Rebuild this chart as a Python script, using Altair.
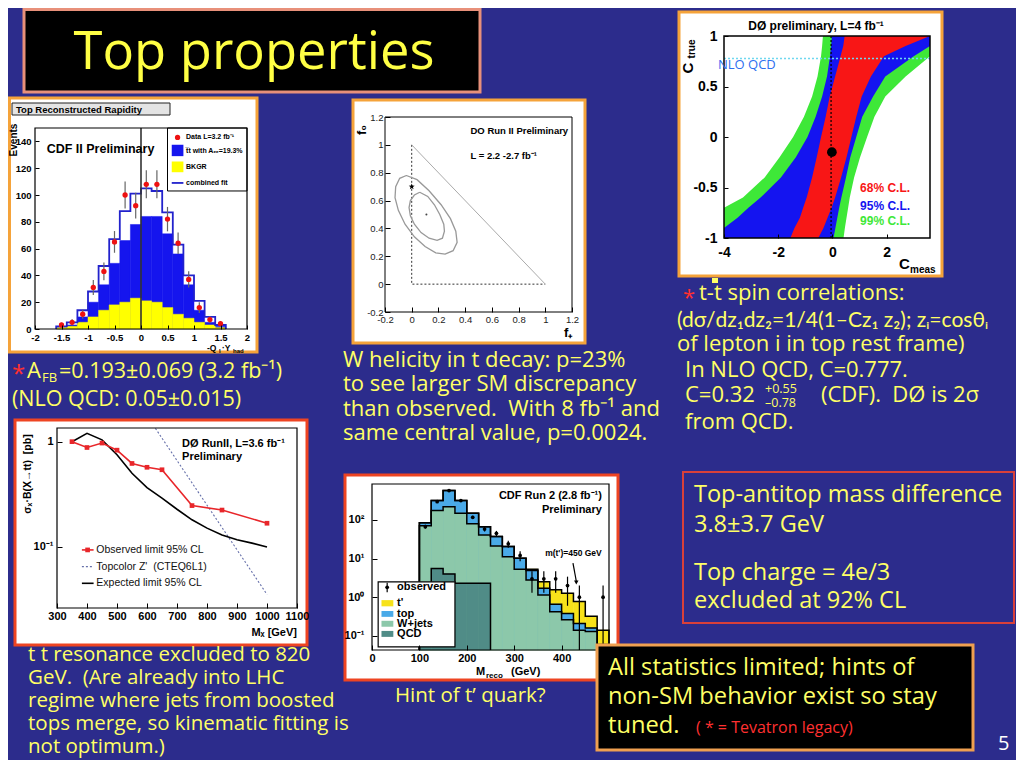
import altair as alt
import pandas as pd

W, H = 1008, 752
BG = "#2c2c8c"
YEL = "#ffff66"
RED = "#ff3030"
SF = "Open Sans"
PF = "Liberation Sans"
ORANGE = "#f5a33a"
REDORANGE = "#ee4422"
NB = "\u00a0"

# ---------------------------------------------------------------- data
# CDF top reconstructed rapidity
rap_lo = [-1.6, -1.4, -1.2, -1.0, -0.8, -0.6, -0.4, -0.2, 0.0, 0.2, 0.4, 0.6, 0.8, 1.0, 1.2, 1.4]
rap_hi = [-1.4, -1.2, -1.0, -0.8, -0.6, -0.4, -0.2, 0.0, 0.2, 0.4, 0.6, 0.8, 1.0, 1.2, 1.4, 1.6]
rap_mid = [-1.5, -1.3, -1.1, -0.9, -0.7, -0.5, -0.3, -0.1, 0.1, 0.3, 0.5, 0.7, 0.9, 1.1, 1.3, 1.5]
rap_fit = [2, 5, 14, 28, 47, 67, 88, 101, 105, 103, 87, 63, 40, 21, 9, 3]
rap_sig = [1, 3, 9, 20, 33, 49, 66, 78, 84, 84, 71, 56, 33, 14, 5, 2]
rap_bkg = [1, 2, 5, 9, 14, 18, 20, 23, 21, 20, 16, 11, 8, 5, 3, 1]
rap_data = [3, 5, 11, 31, 43, 65, 100, 92, 108, 108, 82, 64, 37, 16, 7, 4]
rap_err = [1.7, 2.2, 3.3, 5.6, 6.6, 8.1, 10, 9.6, 10.4, 10.4, 9.1, 8, 6.1, 4, 2.6, 2]

# D0 W helicity
wh_in_x = [0.06, 0.02, -0.01, -0.02, -0.01, 0.02, 0.07, 0.13, 0.19, 0.23, 0.245, 0.24, 0.21, 0.17, 0.12, 0.06]
wh_in_y = [0.66, 0.64, 0.60, 0.55, 0.49, 0.43, 0.37, 0.33, 0.315, 0.33, 0.38, 0.43, 0.50, 0.57, 0.63, 0.66]
wh_out_x = [-0.04, -0.09, -0.12, -0.125, -0.10, -0.05, 0.02, 0.10, 0.18, 0.25, 0.31, 0.34, 0.33, 0.29, 0.22, 0.13, 0.04, -0.04]
wh_out_y = [0.78, 0.76, 0.70, 0.62, 0.53, 0.43, 0.34, 0.27, 0.225, 0.215, 0.24, 0.30, 0.38, 0.47, 0.57, 0.67, 0.75, 0.78]
wh_star = [0.0, 0.70]
wh_best = [0.11, 0.50]

# D0 spin correlation bands (C_true -> C_meas interval)
sp_c = [1.0, 0.9, 0.8, 0.6, 0.4, 0.2, 0.0, -0.2, -0.4, -0.6, -0.7, -0.8, -0.9, -1.0]
sp_g_lo = [-0.35, -0.38, -0.42, -0.55, -0.75, -1.05, -1.45, -1.95, -2.5, -3.3, -4.0, -4.0, -4.0, -4.0]
sp_g_hi = [3.6, 3.6, 3.6, 2.7, 1.95, 1.55, 1.28, 1.02, 0.8, 0.64, 0.58, 0.52, 0.46, 0.41]
sp_b_lo = [-0.02, -0.05, -0.09, -0.2, -0.38, -0.62, -0.92, -1.35, -1.9, -2.65, -3.1, -3.5, -4.0, -4.0]
sp_b_hi = [3.6, 3.6, 3.0, 1.95, 1.5, 1.1, 0.88, 0.66, 0.5, 0.33, 0.25, 0.18, 0.11, 0.04]
sp_r_lo = [0.45, 0.4, 0.3, 0.1, -0.1, -0.25, -0.42, -0.58, -0.75, -0.95, -1.08, -1.2, -1.4, -1.55]
sp_r_hi = [3.6, 2.7, 1.9, 1.42, 1.08, 0.88, 0.70, 0.52, 0.32, 0.10, -0.03, -0.18, -0.33, -0.52]
sp_meas = [-0.02, -0.15]
sp_nlo = 0.777
sp_dot_x = -0.05

# D0 ttbar resonance limits
res_obs_m = [350, 400, 450, 500, 550, 600, 650, 750, 850, 1000]
res_obs = [1.0, 0.88, 0.97, 0.83, 0.62, 0.57, 0.54, 0.246, 0.223, 0.167]
res_exp_m = [350, 400, 450, 500, 550, 600, 650, 700, 750, 800, 850, 900, 950, 1000]
res_exp = [1.0, 1.2, 1.04, 0.75, 0.50, 0.365, 0.29, 0.227, 0.18, 0.15, 0.129, 0.116, 0.108, 0.099]
res_z_m = [628, 1000]
res_z = [1.34, 0.035]

# CDF t' search
tp_lo = [100, 125, 150, 175, 200, 225, 250, 275, 300, 325, 350, 375, 400, 425, 450, 475]
tp_hi = [125, 150, 175, 200, 225, 250, 275, 300, 325, 350, 375, 400, 425, 450, 475, 500]
tp_total = [85, 316, 575, 316, 149, 67, 37, 20.4, 10.2, 5.3, 2.5, 1.55, 1.26, 0.77, 0.32, 0.14]
tp_top = [85, 316, 575, 316, 149, 67, 37, 20.4, 10.2, 4.9, 1.7, 0.66, 0.38, 0.21, 0.16, 0.06]
tp_wj = [71, 174, 220, 149, 79, 41, 21, 11.2, 5.3, 2.8, 1.14, 0.42, 0.26, 0.14, 0.13, 0.05]
tp_qcd_lo = [100, 125, 150, 175, 200, 225]
tp_qcd_hi = [125, 150, 175, 200, 225, 250]
tp_qcd = [1.5, 5.5, 4.0, 2.3, 2.3, 2.3]
tp_obs_m = [112.5, 137.5, 162.5, 187.5, 212.5, 237.5, 262.5, 287.5, 312.5, 337.5, 362.5, 387.5, 412.5, 437.5, 487.5]
tp_obs = [67, 297, 575, 316, 117, 58, 45, 24, 12, 3, 3, 3, 2, 1, 1]
tp_obs_lo = [59, 280, 551, 298, 106, 50, 38, 19, 8.5, 1.3, 1.3, 1.3, 0.6, 0.043, 0.043]
tp_obs_hi = [75, 314, 599, 334, 128, 66, 52, 29, 15.5, 4.7, 4.7, 4.7, 3.4, 2.0, 2.0]

# slide texts
title_text = "Top properties"
afb_lines = ["=0.193\u00b10.069 (3.2 fb\u207b\u00b9)", "(NLO QCD: 0.05\u00b10.015)"]
whel_lines = ["W helicity in t decay: p=23%", "to see larger SM discrepancy",
              "than observed." + NB + " With 8 fb\u207b\u00b9 and", "same central value, p=0.0024."]
spin_lines = ["t-t spin correlations:", "(d\u03c3/dz\u2081dz\u2082=1/4(1\u2013Cz\u2081 z\u2082); z\u1d62=cos\u03b8\u1d62",
              "of lepton i in top rest frame)", "In NLO QCD, C=0.777.", "C=0.32", "+0.55", "\u20130.78",
              "(CDF)." + NB + " D\u00d8 is 2\u03c3", "from QCD."]
res_lines = ["t t resonance excluded to 820", "GeV." + NB + " (Are already into LHC", "regime where jets from boosted",
             "tops merge, so kinematic fitting is", "not optimum.)"]
box_lines = ["Top-antitop mass difference", "3.8\u00b13.7 GeV", "Top charge = 4e/3", "excluded at 92% CL"]
black_lines = ["All statistics limited; hints of", "non-SM behavior exist so stay", "tuned.", "( * = Tevatron legacy)"]

# ---------------------------------------------------------------- helpers
one = pd.DataFrame({"k": [0]})
FMT = "replace(format(datum.value, '~g'), '\u2212', '-')"


def px_rect(x0, y0, x1, y1, fill, stroke=None, sw=0, fo=1.0):
    kw = {"fill": fill, "fillOpacity": fo, "strokeWidth": sw}
    if stroke:
        kw["stroke"] = stroke
    return alt.Chart(one).mark_rect(**kw).encode(
        x=alt.value(x0), x2=alt.value(x1), y=alt.value(y0), y2=alt.value(y1))


def px_text(s, x, y, size, color=YEL, font=SF, align="left", weight="normal", angle=None, baseline="alphabetic"):
    kw = dict(text=s, align=align, baseline=baseline, fontSize=size, font=font, color=color, fontWeight=weight)
    if angle is not None:
        kw["angle"] = angle
    return alt.Chart(one).mark_text(**kw).encode(x=alt.value(x), y=alt.value(y))


def px_block(lines, x, y, size, lh, color=YEL, font=SF):
    return alt.Chart(one).mark_text(text="\n".join(lines), lineBreak="\n", lineHeight=lh, align="left",
                                    baseline="alphabetic", fontSize=size, font=font, color=color).encode(
        x=alt.value(x), y=alt.value(y))


class Plot:
    def __init__(self, xdom, xrng, ydom, yrng, xvals, yvals, ylog=False, ts=4, xpad=2, ypad=2,
                 lsize=10, lweight="bold", xexpr=FMT, yexpr=FMT, lcolor="black"):
        self.xdom, self.ydom = xdom, ydom
        self.xs = alt.Scale(domain=xdom, range=xrng, nice=False, zero=False)
        if ylog:
            self.ys = alt.Scale(type="log", domain=ydom, range=yrng, nice=False)
        else:
            self.ys = alt.Scale(domain=ydom, range=yrng, nice=False, zero=False)
        common = dict(grid=False, domain=False, tickColor="black", tickWidth=1, labelFont=PF,
                      labelFontSize=lsize, labelFontWeight=lweight, labelColor=lcolor, labelFlush=False,
                      labelOverlap=False, title=None, zindex=1)
        self.xa = alt.Axis(orient="bottom", offset=yrng[0] - ts - H, tickSize=ts, labelPadding=xpad,
                           values=xvals, labelExpr=xexpr, **common)
        self.ya = alt.Axis(orient="left", offset=-(xrng[0] + ts), tickSize=ts, labelPadding=ypad,
                           values=yvals, labelExpr=yexpr, **common)

    def X(self, f):
        return alt.X(f, type="quantitative", scale=self.xs, axis=self.xa)

    def Y(self, f):
        return alt.Y(f, type="quantitative", scale=self.ys, axis=self.ya)

    def frame(self, sw=1.2):
        df = pd.DataFrame({"x0": [self.xdom[0]], "x1": [self.xdom[1]], "y0": [self.ydom[0]], "y1": [self.ydom[1]]})
        return alt.Chart(df).mark_rect(fill="white", fillOpacity=0, stroke="black", strokeWidth=sw).encode(
            x=self.X("x0"), x2="x1", y=self.Y("y0"), y2="y1")

    def box(self, x0, x1, y0, y1, fill, stroke=None, sw=0):
        df = pd.DataFrame({"x0": [x0], "x1": [x1], "y0": [y0], "y1": [y1]})
        kw = {"fill": fill, "strokeWidth": sw}
        if stroke:
            kw["stroke"] = stroke
        return alt.Chart(df).mark_rect(**kw).encode(x=self.X("x0"), x2="x1", y=self.Y("y0"), y2="y1")

    def text(self, s, x, y, size, color="black", weight="bold", align="left", font=PF):
        df = pd.DataFrame({"x": [x], "y": [y], "t": [s]})
        return alt.Chart(df).mark_text(align=align, baseline="middle", fontSize=size, font=font,
                                       color=color, fontWeight=weight).encode(
            x=self.X("x"), y=self.Y("y"), text="t:N")

    def seg(self, x0, x1, y0, y1, color, sw=1.2, dash=None):
        df = pd.DataFrame({"x": [x0, x1], "y": [y0, y1], "i": [0, 1]})
        kw = {"color": color, "strokeWidth": sw}
        if dash:
            kw["strokeDash"] = dash
        return alt.Chart(df).mark_line(**kw).encode(x=self.X("x"), y=self.Y("y"), order="i:Q")


def steps(lo, hi, vals, base):
    xs = [lo[0]] + list(lo) + [hi[-1]]
    ys = [base] + list(vals) + [base]
    return pd.DataFrame({"x": xs, "y": ys, "i": list(range(len(xs)))})


layers = []

# ---------------------------------------------------------------- title
layers += [px_rect(16, 1.5, 472, 84, "black", "#e8907a", 3),
           px_text(title_text, 246, 61, 52.5, "#ffff44", SF, align="center")]

# ---------------------------------------------------------------- CDF rapidity
cdf = Plot([-2, 2], [27, 239], [0, 150], [321, 120], [-2, -1.5, -1, -0.5, 0, 0.5, 1, 1.5, 2],
           [0, 20, 40, 60, 80, 100, 120, 140], ts=4, xpad=3, ypad=4, lsize=9.5)
rap_df = pd.DataFrame({"lo": rap_lo, "hi": rap_hi, "sig": rap_sig, "bkg": rap_bkg, "zero": 0})
rap_pts = pd.DataFrame({"x": rap_mid, "y": rap_data,
                        "lo": [d - e for d, e in zip(rap_data, rap_err)],
                        "hi": [d + e for d, e in zip(rap_data, rap_err)]})
BLUE = "#1515ee"
cdf_layer = alt.layer(
    px_rect(1.5, 90, 249, 344, "white", ORANGE, 3),
    px_rect(4, 95, 162, 107, "#e4e4e4", "#222222", 1),
    px_text("Top Reconstructed Rapidity", 8, 105, 9.5, "black", PF, weight="bold"),
    alt.Chart(rap_df).mark_rect(color=BLUE, stroke=BLUE, strokeWidth=0.5).encode(
        x=cdf.X("lo"), x2="hi", y=cdf.Y("sig"), y2="zero"),
    alt.Chart(rap_df).mark_rect(color="#ffff00", stroke="#ffff00", strokeWidth=0.5).encode(
        x=cdf.X("lo"), x2="hi", y=cdf.Y("bkg"), y2="zero"),
    alt.Chart(steps(rap_lo, rap_hi, rap_fit, 0)).mark_line(interpolate="step-after", color="#2222cc",
                                                           strokeWidth=1.8).encode(
        x=cdf.X("x"), y=cdf.Y("y"), order="i:Q"),
    cdf.seg(0, 0, 0, 150, "#333333", 1.6),
    alt.Chart(rap_pts).mark_rule(color="#666666", strokeWidth=1.2).encode(
        x=cdf.X("x"), y=cdf.Y("lo"), y2="hi"),
    alt.Chart(rap_pts).mark_point(filled=True, color="#ee1111", size=28, opacity=1).encode(
        x=cdf.X("x"), y=cdf.Y("y")),
    cdf.text("CDF II Preliminary", -1.78, 134, 12.5),
    cdf.box(0.5, 2.0, 103, 150, "white", "black", 1),
    alt.Chart(pd.DataFrame({"x": [0.69], "y": [143]})).mark_point(filled=True, color="#ee1111", size=28,
                                                                 opacity=1).encode(
        x=cdf.X("x"), y=cdf.Y("y")),
    cdf.box(0.58, 0.8, 129, 137.5, BLUE),
    cdf.box(0.58, 0.8, 117, 125, "#ffff00"),
    cdf.seg(0.58, 0.8, 109, 109, "#2222cc", 1.8),
    cdf.text("Data L=3.2 fb\u207b\u00b9", 0.85, 143, 7),
    cdf.text("t\u0305t with A\u2091\u2091=19.3%", 0.85, 133, 7),
    cdf.text("BKGR", 0.85, 121, 7),
    cdf.text("combined fit", 0.85, 109, 7),
    cdf.frame(),
)
layers += [cdf_layer,
           px_text("Events", 6, 132, 10, "black", PF, align="center", weight="bold", angle=270, baseline="middle"),
           px_text("-Q", 199, 343, 8.5, "black", PF, weight="bold"),
           px_text("l", 211, 345, 6, "black", PF, weight="bold"),
           px_text("\u00b7Y", 214, 343, 8.5, "black", PF, weight="bold"),
           px_text("had", 225, 345, 6, "black", PF, weight="bold")]

# ---------------------------------------------------------------- W helicity
wv = [-0.2, 0, 0.2, 0.4, 0.6, 0.8, 1, 1.2]
wh = Plot([-0.2, 1.2], [377, 564], [-0.2, 1.2], [304, 109], wv, wv, ts=5, xpad=2, ypad=2, lsize=9.5,
          lweight="normal", lcolor="#222222")
ell = pd.concat([
    pd.DataFrame({"x": wh_in_x, "y": wh_in_y, "i": list(range(len(wh_in_x))), "e": "in"}),
    pd.DataFrame({"x": wh_out_x, "y": wh_out_y, "i": list(range(len(wh_out_x))), "e": "out"})])
tri = pd.DataFrame({"x": [0, 0, 1], "y": [1, 0, 0], "i": [0, 1, 2]})
STAR = ("M0,-1L0.235,-0.324L0.951,-0.309L0.38,0.124L0.588,0.809L0,0.4L-0.588,0.809L-0.38,0.124"
        "L-0.951,-0.309L-0.235,-0.324Z")
wh_layer = alt.layer(
    px_rect(345, 92, 577, 335, "white", ORANGE, 3),
    alt.Chart(tri).mark_line(color="#333333", strokeWidth=1, strokeDash=[2, 2]).encode(
        x=wh.X("x"), y=wh.Y("y"), order="i:Q"),
    wh.seg(0, 1, 1, 0, "#aaaaaa", 1),
    alt.Chart(ell).mark_line(color="#999999", strokeWidth=1.3).encode(
        x=wh.X("x"), y=wh.Y("y"), order="i:Q", detail="e:N"),
    alt.Chart(pd.DataFrame({"x": [wh_star[0]], "y": [wh_star[1]]})).mark_point(
        shape=STAR, filled=True, color="black", size=40, opacity=1).encode(x=wh.X("x"), y=wh.Y("y")),
    alt.Chart(pd.DataFrame({"x": [wh_best[0]], "y": [wh_best[1]]})).mark_point(
        filled=True, color="#444444", size=4, opacity=1).encode(x=wh.X("x"), y=wh.Y("y")),
    wh.text("DO Run II Preliminary", 0.44, 1.10, 9.5),
    wh.text("L = 2.2 -2.7 fb\u207b\u00b9", 0.44, 0.92, 9.5),
    wh.frame(1),
)
layers += [wh_layer,
           px_text("f\u2080", 354, 122, 13, "black", PF, align="center", weight="bold", angle=270, baseline="middle"),
           px_text("f\u208a", 556, 329, 13, "black", PF, weight="bold")]

# ---------------------------------------------------------------- spin correlation
sp = Plot([-4, 3.6], [716, 922], [-1, 1], [230, 28], [-4, -2, 0, 2], [-1, -0.5, 0, 0.5, 1],
          ts=4, xpad=7, ypad=7, lsize=14)
band = pd.DataFrame({"c": sp_c, "glo": sp_g_lo, "ghi": sp_g_hi, "blo": sp_b_lo, "bhi": sp_b_hi,
                     "rlo": sp_r_lo, "rhi": sp_r_hi})
sp_layer = alt.layer(
    px_rect(671, 4, 934, 268, "white", ORANGE, 3),
    alt.Chart(band).mark_area(orient="horizontal", color="#3ee838", opacity=1).encode(
        y=sp.Y("c"), x=sp.X("glo"), x2="ghi"),
    alt.Chart(band).mark_area(orient="horizontal", color="#1414f0", opacity=1).encode(
        y=sp.Y("c"), x=sp.X("blo"), x2="bhi"),
    alt.Chart(band).mark_area(orient="horizontal", color="#f81616", opacity=1).encode(
        y=sp.Y("c"), x=sp.X("rlo"), x2="rhi"),
    sp.seg(sp_dot_x, sp_dot_x, -1, 1, "black", 1.2, [2, 2]),
    sp.seg(-4, 3.6, sp_nlo, sp_nlo, "#6fd8f0", 1.6, [2, 2]),
    alt.Chart(pd.DataFrame({"x": [sp_meas[0]], "y": [sp_meas[1]]})).mark_point(
        filled=True, color="black", size=95, opacity=1).encode(x=sp.X("x"), y=sp.Y("y")),
    sp.text("68% C.L.", 1.02, -0.50, 12, "#f81616"),
    sp.text("95% C.L.", 1.02, -0.68, 12, "#1414f0"),
    sp.text("99% C.L.", 1.02, -0.83, 12, "#3ee838"),
    sp.frame(1.5),
)
layers += [sp_layer,
           px_text("D\u00d8 preliminary, L=4 fb\u207b\u00b9", 808, 22, 12, "black", PF, align="center", weight="bold"),
           px_text("C", 680, 60, 15, "black", PF, align="center", weight="bold", angle=270, baseline="middle"),
           px_text("true", 684, 41, 10, "black", PF, align="center", weight="bold", angle=270, baseline="middle"),
           px_text("C", 891, 261, 15, "black", PF, weight="bold"),
           px_text("meas", 902, 265, 10, "black", PF, weight="bold"),
           px_text("NLO QCD", 710, 61, 13, "#2e6ff0", SF)]

# ---------------------------------------------------------------- D0 resonance
res = Plot([300, 1100], [49, 289], [0.026, 1.35], [600, 420], [300, 400, 500, 600, 700, 800, 900, 1000, 1100],
           [0.1, 1], ylog=True, ts=5, xpad=2, ypad=4, lsize=11,
           yexpr="datum.value >= 1 ? '1' : '10\u207b\u00b9'")
obs_df = pd.DataFrame({"x": res_obs_m, "y": res_obs, "i": list(range(len(res_obs)))})
exp_df = pd.DataFrame({"x": res_exp_m, "y": res_exp, "i": list(range(len(res_exp)))})
z_df = pd.DataFrame({"x": res_z_m, "y": res_z, "i": [0, 1]})
RRED = "#e8262a"
res_layer = alt.layer(
    px_rect(7, 412, 299, 637, "white", REDORANGE, 3),
    alt.Chart(z_df).mark_line(color="#6670aa", strokeWidth=1.1, strokeDash=[2, 2]).encode(
        x=res.X("x"), y=res.Y("y"), order="i:Q"),
    alt.Chart(exp_df).mark_line(color="black", strokeWidth=1.6).encode(
        x=res.X("x"), y=res.Y("y"), order="i:Q"),
    alt.Chart(obs_df).mark_line(color=RRED, strokeWidth=1.6).encode(
        x=res.X("x"), y=res.Y("y"), order="i:Q"),
    alt.Chart(obs_df).mark_point(shape="square", filled=True, color=RRED, size=22, opacity=1).encode(
        x=res.X("x"), y=res.Y("y")),
    res.seg(383, 422, 0.093, 0.093, RRED, 1.6),
    alt.Chart(pd.DataFrame({"x": [402], "y": [0.093]})).mark_point(shape="square", filled=True, color=RRED,
                                                                  size=22, opacity=1).encode(
        x=res.X("x"), y=res.Y("y")),
    res.seg(383, 422, 0.0645, 0.0645, "#6670aa", 1.1, [2, 2]),
    res.seg(383, 422, 0.0447, 0.0447, "black", 1.6),
    res.text("Observed limit 95% CL", 431, 0.093, 10.5, "#111111", "normal"),
    res.text("Topcolor Z'" + NB + " (CTEQ6L1)", 431, 0.0645, 10.5, "#111111", "normal"),
    res.text("Expected limit 95% CL", 431, 0.0447, 10.5, "#111111", "normal"),
    res.text("D\u00d8 RunII, L=3.6 fb\u207b\u00b9", 717, 0.96, 11),
    res.text("Preliminary", 717, 0.72, 11),
    res.frame(1.2),
)
layers += [res_layer,
           px_text("\u03c3\u2093\u00b7B(X\u2192tt)" + NB + " [pb]", 20, 466, 10.5, "black", PF, align="center",
                   weight="bold", angle=270, baseline="middle"),
           px_text("M\u2093 [GeV]", 289, 628, 11, "black", PF, align="right", weight="bold")]

# ---------------------------------------------------------------- CDF t'
tp = Plot([0, 500], [364, 601], [0.043, 850], [642, 476], [0, 100, 200, 300, 400], [0.1, 1, 10, 100],
          ylog=True, ts=5, xpad=2, ypad=8, lsize=11,
          yexpr=("datum.value >= 100 ? '10\u00b2' : datum.value >= 10 ? '10\u00b9' : "
                 "datum.value >= 1 ? '10\u2070' : '10\u207b\u00b9'"))
BASE = 0.043
tp_df = pd.DataFrame({"lo": tp_lo, "hi": tp_hi, "tot": tp_total, "top": tp_top, "wj": tp_wj, "b": BASE})
qcd_df = pd.DataFrame({"lo": tp_qcd_lo, "hi": tp_qcd_hi, "q": tp_qcd, "b": BASE})
tobs = pd.DataFrame({"x": tp_obs_m, "y": tp_obs, "lo": tp_obs_lo, "hi": tp_obs_hi})
C_TP, C_TOP, C_WJ, C_QCD = "#f7e21a", "#4aaae8", "#8cc8aa", "#508c87"


def tp_bars(col, color, df=tp_df):
    return alt.Chart(df).mark_rect(color=color, stroke=color, strokeWidth=0.5).encode(
        x=tp.X("lo"), x2="hi", y=tp.Y(col), y2="b")


def tp_step(vals, lo=tp_lo, hi=tp_hi):
    return alt.Chart(steps(lo, hi, vals, BASE)).mark_line(interpolate="step-after", color="black",
                                                         strokeWidth=1.5).encode(
        x=tp.X("x"), y=tp.Y("y"), order="i:Q")


tp_layer = alt.layer(
    px_rect(337, 467, 610, 672, "white", REDORANGE, 3),
    tp_bars("tot", C_TP), tp_bars("top", C_TOP), tp_bars("wj", C_WJ), tp_bars("q", C_QCD, qcd_df),
    tp_step(tp_total), tp_step(tp_top), tp_step(tp_wj), tp_step(tp_qcd, tp_qcd_lo, tp_qcd_hi),
    alt.Chart(tobs).mark_rule(color="black", strokeWidth=1.2).encode(x=tp.X("x"), y=tp.Y("lo"), y2="hi"),
    alt.Chart(tobs).mark_point(filled=True, color="black", size=14, opacity=1).encode(x=tp.X("x"), y=tp.Y("y")),
    tp.box(13, 175, 0.052, 2.5, "white", "black", 1.2),
    tp.seg(32, 32, 1.35, 2.35, "black", 1.2),
    alt.Chart(pd.DataFrame({"x": [32], "y": [1.8]})).mark_point(filled=True, color="black", size=14,
                                                               opacity=1).encode(x=tp.X("x"), y=tp.Y("y")),
    tp.box(20, 45, 0.58, 0.84, C_TP),
    tp.box(20, 45, 0.31, 0.44, C_TOP),
    tp.box(20, 45, 0.172, 0.245, C_WJ),
    tp.box(20, 45, 0.094, 0.134, C_QCD),
    tp.text("observed", 53, 1.8, 11),
    tp.text("t'", 53, 0.695, 11),
    tp.text("top", 53, 0.367, 11),
    tp.text("W+jets", 53, 0.204, 11),
    tp.text("QCD", 53, 0.112, 11),
    tp.text("CDF Run 2 (2.8 fb\u207b\u00b9)", 485, 415, 11, align="right"),
    tp.text("Preliminary", 485, 180, 11, align="right"),
    tp.text("m(t')=450 GeV", 425, 13.7, 8.5, align="center"),
    tp.seg(424, 431, 7.6, 2.6, "black", 1.2),
    alt.Chart(pd.DataFrame({"x": [431], "y": [2.4]})).mark_point(shape="triangle-down", filled=True,
                                                                color="black", size=20, opacity=1).encode(
        x=tp.X("x"), y=tp.Y("y")),
    tp.frame(1.2),
)
layers += [tp_layer,
           px_text("M", 468, 667, 11, "black", PF, weight="bold"),
           px_text("reco", 478, 670, 8, "black", PF, weight="bold"),
           px_text("(GeV)", 503, 667, 11, "black", PF, weight="bold")]

# ---------------------------------------------------------------- slide texts
layers += [px_text("*", 4, 374, 24, RED),
           px_text("A", 19, 370, 22),
           px_text("FB", 34, 374, 13),
           px_text(afb_lines[0], 51, 370, 21.5),
           px_text(afb_lines[1], 4, 398, 21.5)]
layers.append(px_block(whel_lines, 335, 359, 22, 24.4))

layers += [px_rect(704, 270, 710, 275, YEL),
           px_text("*", 675, 297, 22, RED),
           px_text(spin_lines[0], 691, 292, 22),
           px_text(spin_lines[1], 669, 319, 21, font="Lato"),
           px_text(spin_lines[2], 669, 343, 22),
           px_text(spin_lines[3], 677, 369, 22),
           px_text(spin_lines[4], 677, 394, 22),
           px_block(spin_lines[5:7], 757, 385, 12.5, 14),
           px_text(spin_lines[7], 813, 394, 22),
           px_text(spin_lines[8], 677, 421, 22)]

layers.append(px_block(res_lines, 20, 653, 20.5, 23))
layers.append(px_text("Hint of t\u2019 quark?", 387, 694, 20.5))

layers += [px_rect(675, 464, 1006, 615, BG, "#d8403a", 2),
           px_block(box_lines[0:2], 686, 494, 23.5, 30),
           px_block(box_lines[2:4], 686, 572, 23.5, 28)]

layers += [px_rect(589, 637, 965, 742, "black", "#f0a050", 3),
           px_block(black_lines[0:3], 600, 667, 23.7, 29),
           px_text(black_lines[3], 688, 725, 16, RED),
           px_text("5", 990, 742, 20, "white")]

chart = alt.layer(*layers).resolve_scale(x="independent", y="independent").properties(
    width=W, height=H, background=BG, padding=0,
    autosize=alt.AutoSizeParams(type="none", contains="padding"),
).configure_view(stroke=None)

chart.save("out.html", embed_options={"renderer": "svg", "actions": False})
